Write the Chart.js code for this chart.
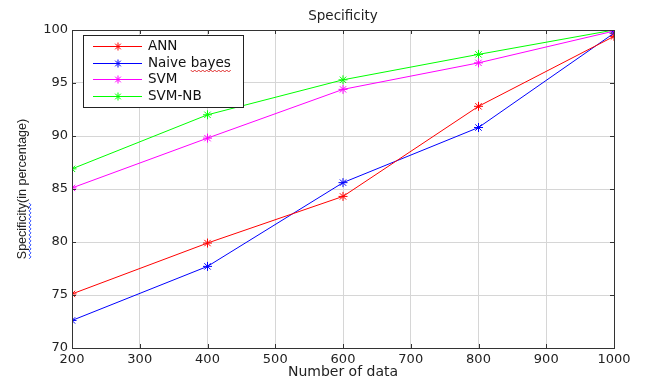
<!DOCTYPE html>
<html>
<head>
<meta charset="utf-8">
<script src="https://cdn.jsdelivr.net/npm/chart.js@4.4.1/dist/chart.umd.min.js"></script>
<style>
html, body { margin: 0; background: #fff; }
#wrap { width: 645px; height: 381px; }
</style>
</head>
<body>
<div id="wrap"><canvas id="chart"></canvas></div>
<script>
// values
const dataSizes = [200, 400, 600, 800, 1000];
const annValues = [75.1, 79.9, 84.3, 92.8, 99.4];
const naiveBayesValues = [72.6, 77.7, 85.6, 90.8, 99.7];
const svmValues = [85.1, 89.8, 94.4, 96.9, 99.9];
const svmNbValues = [86.9, 92.0, 95.3, 97.7, 100];
const seriesNames = ['ANN', 'Naive bayes', 'SVM', 'SVM-NB'];
const seriesColors = ['#ff0000', '#0000ff', '#ff00ff', '#00ff00'];

const FONT = "'Liberation Sans', Arial, sans-serif";
const WIDE = "'DejaVu Sans', Verdana, sans-serif";

function toPoints(values) {
    return dataSizes.map((x, i) => ({ x: x, y: values[i] }));
}

function starAt(ctx, x, y, r) {
    ctx.beginPath();
    ctx.moveTo(x - r, y); ctx.lineTo(x + r, y);
    ctx.moveTo(x, y - r); ctx.lineTo(x, y + r);
    const d = r * 0.707;
    ctx.moveTo(x - d, y - d); ctx.lineTo(x + d, y + d);
    ctx.moveTo(x - d, y + d); ctx.lineTo(x + d, y - d);
    ctx.stroke();
}

function squiggle(ctx, x0, x1, y, color, vertical) {
    ctx.save();
    ctx.strokeStyle = color;
    ctx.lineWidth = 1;
    ctx.beginPath();
    let up = true;
    for (let p = x0; p <= x1; p += 2) {
        const off = up ? -1 : 1;
        if (vertical) {
            if (p === x0) ctx.moveTo(y + off, p); else ctx.lineTo(y + off, p);
        } else {
            if (p === x0) ctx.moveTo(p, y + off); else ctx.lineTo(p, y + off);
        }
        up = !up;
    }
    ctx.stroke();
    ctx.restore();
}

// box around the axes, inward ticks, legend box
const matlabLook = {
    id: 'matlabLook',
    afterDraw(chart) {
        const ctx = chart.ctx;
        const a = chart.chartArea;
        const xs = chart.scales.x, ys = chart.scales.y;
        ctx.save();
        ctx.strokeStyle = '#333';
        ctx.lineWidth = 1;
        ctx.strokeRect(a.left + 0.5, a.top + 0.5, a.right - a.left, a.bottom - a.top);
        ctx.beginPath();
        xs.ticks.forEach(t => {
            const px = Math.round(xs.getPixelForValue(t.value)) + 0.5;
            ctx.moveTo(px, a.bottom); ctx.lineTo(px, a.bottom - 4);
            ctx.moveTo(px, a.top); ctx.lineTo(px, a.top + 4);
        });
        ys.ticks.forEach(t => {
            const py = Math.round(ys.getPixelForValue(t.value)) + 0.5;
            ctx.moveTo(a.left, py); ctx.lineTo(a.left + 4, py);
            ctx.moveTo(a.right, py); ctx.lineTo(a.right - 4, py);
        });
        ctx.stroke();

        // legend
        const bx = 83, by = 35, bw = 160, bh = 72;
        ctx.fillStyle = '#fff';
        ctx.fillRect(bx, by, bw, bh);
        ctx.strokeStyle = '#222';
        ctx.strokeRect(bx + 0.5, by + 0.5, bw, bh);
        ctx.font = '13.5px ' + WIDE;
        ctx.textBaseline = 'middle';
        const rows = [46, 63, 79, 96];
        seriesNames.forEach((name, i) => {
            const y = rows[i];
            ctx.strokeStyle = seriesColors[i];
            ctx.beginPath();
            ctx.moveTo(93, y + 0.5); ctx.lineTo(142, y + 0.5);
            ctx.stroke();
            starAt(ctx, 118, y + 0.5, 4);
            ctx.fillStyle = '#111';
            ctx.fillText(name, 148, y);
        });
        // spell-check underline below "bayes"
        const sx = 148 + ctx.measureText('Naive ').width;
        squiggle(ctx, sx, sx + ctx.measureText('bayes').width, rows[1] + 8, '#e03030', false);

        // spell-check underline below "Specificity" on the y title
        ctx.font = '12.5px ' + FONT;
        const full = ctx.measureText('Specificity(in percentage)').width;
        const word = ctx.measureText('Specificity').width;
        const cy = (a.top + a.bottom) / 2;
        const start = cy + full / 2;
        squiggle(ctx, start - word, start, 30, '#3050ff', true);
        ctx.restore();
    }
};

new Chart(document.getElementById('chart'), {
    type: 'line',
    data: {
        datasets: [annValues, naiveBayesValues, svmValues, svmNbValues].map((vals, i) => ({
            label: seriesNames[i],
            data: toPoints(vals),
            borderColor: seriesColors[i],
            backgroundColor: seriesColors[i],
            borderWidth: 1,
            pointStyle: 'star',
            pointRadius: 4.5,
            pointBorderWidth: 1,
            tension: 0,
            fill: false
        }))
    },
    options: {
        responsive: true,
        maintainAspectRatio: false,
        animation: false,
        layout: { padding: { left: 0, right: 31, top: 0, bottom: 0 } },
        plugins: {
            legend: { display: false },
            tooltip: { enabled: false },
            title: {
                display: true,
                fullSize: false,
                text: 'Specificity',
                color: '#222',
                font: { family: WIDE, size: 13.5, weight: 'normal' },
                padding: { top: 8, bottom: 5.8 }
            }
        },
        scales: {
            x: {
                type: 'linear',
                min: 200,
                max: 1000,
                afterFit(scale) { scale.height = 33; },
                ticks: {
                    stepSize: 100,
                    color: '#222',
                    font: { family: WIDE, size: 13 },
                    padding: 4,
                    maxRotation: 0,
                    callback: v => String(v)
                },
                grid: { color: '#d6d6d6', drawTicks: false },
                border: { display: false },
                title: {
                    display: true,
                    text: 'Number of data',
                    color: '#222',
                    font: { family: WIDE, size: 14 },
                    padding: { top: 0, bottom: 0 }
                }
            },
            y: {
                min: 70,
                max: 100,
                afterFit(scale) { scale.width = 72; },
                ticks: {
                    stepSize: 5,
                    color: '#222',
                    font: { family: WIDE, size: 13 },
                    padding: 4
                },
                grid: { color: '#d6d6d6', drawTicks: false },
                border: { display: false },
                title: {
                    display: true,
                    text: 'Specificity(in percentage)',
                    color: '#222',
                    font: { family: FONT, size: 12.5 },
                    padding: { top: 15, bottom: 0 }
                }
            }
        }
    },
    plugins: [matlabLook]
});
</script>
</body>
</html>
